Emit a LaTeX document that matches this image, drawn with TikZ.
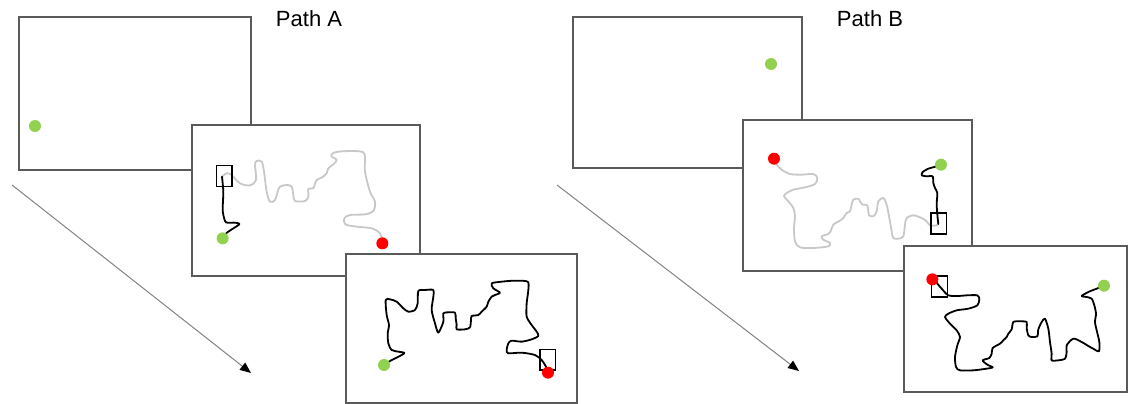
\documentclass[tikz,border=0pt]{standalone}
\usepackage{fontspec}
\setmainfont{Liberation Sans}
\usetikzlibrary{arrows.meta}
\definecolor{frame}{RGB}{90,90,90}
\definecolor{dotgreen}{RGB}{146,208,80}
\definecolor{dotred}{RGB}{255,0,0}
\definecolor{ghost}{RGB}{200,200,200}
\definecolor{arrgray}{RGB}{130,130,130}
\tikzset{
  panel/.style={draw=frame, line width=1.1pt, fill=white},
  gdot/.style={circle, fill=dotgreen, inner sep=0pt, minimum size=12pt},
  rdot/.style={circle, fill=dotred, inner sep=0pt, minimum size=12pt},
  oldpath/.style={draw=ghost, line width=1.8pt, line join=round, line cap=round},
  newpath/.style={draw=black, line width=1.8pt, line join=round, line cap=round},
  marker/.style={draw=black, line width=1.2pt},
  arr/.style={draw=arrgray, line width=1pt, -{Triangle[length=11pt,width=9pt,fill=black,color=black]}},
  title/.style={font=\fontsize{22}{24}\selectfont, inner sep=0pt}
}
\begin{document}
\begin{tikzpicture}[x=1pt,y=-1pt]
\useasboundingbox (0,0) rectangle (1128,404);

% ---------------- Path A ----------------
\node[title] (tA) at (309,19) {Path A};
\coordinate (aS) at (12,185);
\coordinate (aE) at (251,373);
\draw[arr] (aS) -- (aE);

\draw[panel] (19,17) rectangle (251,170);
\node[gdot] (gA1) at (35,126) {};

\draw[panel] (192,125) rectangle (420,276);
\begin{scope}[shift={(190,125)}, x=0.33333pt, y=-0.33333pt]
  \draw[oldpath] plot[smooth, tension=0.55] coordinates {
    (96,155) (110,145) (125,150) (150,175) (180,181) (198,165) (195,120) (200,108) (215,110)
    (222,140) (230,200) (240,230) (255,225) (263,200) (270,185) (290,180) (305,185) (310,210)
    (315,228) (345,228) (355,215) (355,192) (370,190) (375,175) (380,165) (400,155) (410,145)
    (415,130) (430,118) (440,105) (425,95) (427,86) (445,80) (490,78) (520,82) (525,100)
    (525,140) (540,200) (555,230) (550,258) (525,268) (480,270) (463,280) (466,298) (500,305)
    (545,310) (570,325) (577,350)};
  \draw[newpath] plot[smooth, tension=0.4] coordinates {
    (98,340) (112,322) (148,298) (135,293) (108,292) (100,270) (98,250) (100,200) (96,155)};
  \draw[marker] (79,122) rectangle (126,184);
  \node[gdot] (gA2) at (98,340) {};
  \node[rdot] (rA2) at (577,355) {};
\end{scope}

\draw[panel] (346,254) rectangle (577,403);
\begin{scope}[shift={(345,250)}, x=0.33333pt, y=-0.33333pt]
  \draw[newpath] plot[smooth, tension=0.45] coordinates {
    (117,345) (135,333) (178,310) (160,305) (140,300) (130,280) (128,250) (132,225) (125,195)
    (122,150) (135,148) (155,155) (175,175) (190,185) (210,180) (218,160) (220,123) (240,120)
    (265,120) (265,140) (260,180) (270,220) (280,248) (295,215) (295,190) (310,187) (330,188)
    (332,205) (335,225) (335,238) (360,238) (375,232) (378,210) (380,198) (400,195) (410,185)
    (425,170) (430,155) (440,140) (450,135) (465,128) (445,115) (440,100) (470,95) (510,92)
    (548,95) (550,120) (545,160) (545,200) (560,225) (575,245) (580,258) (560,268) (530,275)
    (500,272) (490,280) (485,300) (490,310) (530,308) (570,315) (590,330) (600,345) (609,362)};
  \draw[marker] (585,298) rectangle (632,360);
  \node[gdot] (gA3) at (117,345) {};
  \node[rdot] (rA3) at (609,368) {};
\end{scope}

% ---------------- Path B ----------------
\node[title] (tB) at (870,19) {Path B};
\coordinate (bS) at (557,185);
\coordinate (bE) at (799,371);
\draw[arr] (bS) -- (bE);

\draw[panel] (573,17) rectangle (802,168);
\node[gdot] (gB1) at (771,64) {};

\draw[panel] (743,120) rectangle (972,271);
\begin{scope}[shift={(740,118)}, x=0.33333pt, y=-0.33333pt]
  \draw[oldpath] plot[smooth, tension=0.5] coordinates {
    (102,122) (110,140) (125,155) (150,168) (185,170) (220,168) (232,180) (225,198) (195,208)
    (160,215) (140,225) (132,235) (145,250) (160,270) (165,295) (162,330) (165,370) (180,388)
    (220,390) (265,385) (270,375) (250,365) (245,355) (265,348) (272,340) (280,320) (300,308)
    (310,300) (320,285) (330,280) (335,260) (340,245) (355,242) (360,250) (368,260) (382,262)
    (385,280) (387,292) (400,295) (410,280) (415,250) (430,240) (440,260) (448,300) (455,340)
    (460,360) (475,362) (490,355) (495,320) (500,300) (520,292) (545,300) (560,310) (570,322)
    (590,322) (595,315)};
  \draw[newpath] plot[smooth, tension=0.4] coordinates {
    (595,318) (593,300) (590,260) (592,225) (585,210) (580,195) (578,175) (560,175) (545,172)
    (548,162) (565,152) (590,145) (603,140)};
  \draw[marker] (573,285) rectangle (620,348);
  \node[rdot] (rB2) at (102,122) {};
  \node[gdot] (gB2) at (603,140) {};
\end{scope}

\draw[panel] (904,246) rectangle (1127,392);
\begin{scope}[shift={(900,242)}, x=0.33333pt, y=-0.33333pt]
  \draw[newpath] plot[smooth, tension=0.45] coordinates {
    (108,120) (125,140) (145,160) (175,162) (200,160) (232,160) (238,172) (232,190) (205,200)
    (170,205) (145,215) (135,225) (150,245) (170,265) (180,285) (172,310) (165,345) (168,375)
    (180,385) (220,385) (260,380) (278,376) (262,368) (248,355) (268,348) (275,335) (278,318)
    (300,305) (310,295) (320,285) (325,275) (335,262) (340,240) (360,238) (380,240) (380,258)
    (385,280) (395,285) (412,283) (415,262) (425,240) (435,230) (445,260) (450,300) (455,335)
    (455,355) (475,355) (495,350) (500,330) (500,310) (520,290) (545,300) (565,312) (583,322)
    (597,328) (598,300) (590,265) (585,240) (588,215) (583,190) (575,170) (560,165) (545,162)
    (565,150) (590,140) (612,131)};
  \draw[marker] (95,102) rectangle (143,165);
  \node[rdot] (rB3) at (97,112) {};
  \node[gdot] (gB3) at (612,131) {};
\end{scope}
\end{tikzpicture}
\end{document}
